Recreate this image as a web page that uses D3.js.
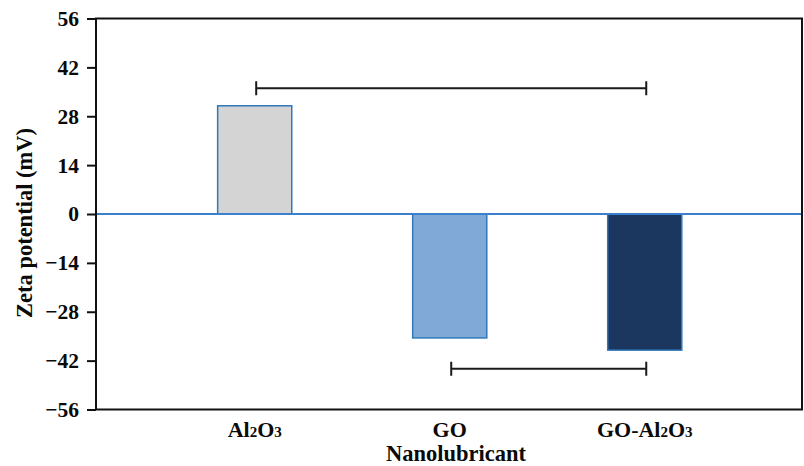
<!DOCTYPE html>
<html>
<head>
<meta charset="utf-8">
<script src="https://cdn.jsdelivr.net/npm/d3@7"></script>
<style>
  html, body { margin: 0; padding: 0; background: #fff; }
  svg { display: block; }
  text { font-family: "Liberation Serif", "Times New Roman", serif; font-weight: bold; fill: #0a0a0a; }
</style>
</head>
<body>
<svg id="chart" width="804" height="466"></svg>
<script>
// Zeta potential of each nanolubricant (mV)
const categories = ["Al2O3", "GO", "GO-Al2O3"];
const zetaValues = [31, -35.5, -39];
const barFills = ["#d4d4d4", "#81a9d8", "#1b365f"];
const yTicks = [-56, -42, -28, -14, 0, 14, 28, 42, 56];
// Comparison brackets drawn between category centres
const bracketFrom = ["Al2O3", "GO"];
const bracketTo = ["GO-Al2O3", "GO-Al2O3"];
const bracketLevel = [36, -44.3];

const svg = d3.select("#chart");
const plot = { left: 96, right: 802, top: 18.5, bottom: 409.5 };

const y = d3.scaleLinear().domain([-56, 56]).range([plot.bottom, plot.top]);
const x = d3.scaleBand().domain(categories)
  .range([plot.left, plot.right]).paddingInner(0.62).paddingOuter(0.62).align(0.503);

// Bars
svg.append("g").selectAll("rect")
  .data(categories.map((c, i) => ({ c, v: zetaValues[i], fill: barFills[i] })))
  .join("rect")
  .attr("x", d => x(d.c))
  .attr("width", x.bandwidth())
  .attr("y", d => y(Math.max(0, d.v)))
  .attr("height", d => Math.abs(y(d.v) - y(0)))
  .attr("fill", d => d.fill)
  .attr("stroke", "#2f79b9")
  .attr("stroke-width", 1.5);

// Zero line
svg.append("line")
  .attr("x1", plot.left).attr("x2", plot.right)
  .attr("y1", y(0)).attr("y2", y(0))
  .attr("stroke", "#3a80cc").attr("stroke-width", 2);

// Frame
svg.append("rect")
  .attr("x", plot.left).attr("y", plot.top)
  .attr("width", plot.right - plot.left).attr("height", plot.bottom - plot.top)
  .attr("fill", "none").attr("stroke", "#111").attr("stroke-width", 2);

// Y axis
const yAxis = d3.axisLeft(y).tickValues(yTicks).tickSize(9).tickPadding(8).tickFormat(d3.format("d"));
const gy = svg.append("g").attr("transform", `translate(${plot.left},0)`).call(yAxis);
gy.select(".domain").remove();
gy.selectAll(".tick line").attr("stroke", "#111").attr("stroke-width", 2);
gy.selectAll(".tick text")
  .style("font-family", "'Liberation Serif', serif")
  .style("font-weight", "bold")
  .style("font-size", "21.5px")
  .attr("fill", "#0a0a0a");

// X category labels with subscripted digits
const xLabels = svg.append("g").selectAll("text")
  .data(categories)
  .join("text")
  .attr("x", d => x(d) + x.bandwidth() / 2)
  .attr("y", 437)
  .attr("text-anchor", "middle")
  .style("font-size", "22px");
xLabels.each(function(d) {
  const t = d3.select(this);
  d.split(/(\d)/).filter(s => s.length).forEach(part => {
    if (/^\d$/.test(part)) {
      t.append("tspan").text(part).style("font-size", "15px");
    } else {
      t.append("tspan").text(part);
    }
  });
});

// Axis titles
svg.append("text")
  .attr("x", (plot.left + plot.right) / 2 + 7)
  .attr("y", 461)
  .attr("text-anchor", "middle")
  .style("font-size", "22.5px")
  .text("Nanolubricant");

svg.append("text")
  .attr("transform", `translate(32,${(plot.top + plot.bottom) / 2 + 9}) rotate(-90)`)
  .attr("text-anchor", "middle")
  .style("font-size", "22.5px")
  .text("Zeta potential (mV)");

// Comparison brackets
const cx = c => x(c) + x.bandwidth() / 2 + 1.5;
const capHalf = 7;
const brackets = svg.append("g").attr("stroke", "#1a1a1a").attr("stroke-width", 2).attr("fill", "none");
bracketLevel.forEach((lv, i) => {
  const x1 = cx(bracketFrom[i]), x2 = cx(bracketTo[i]), yy = y(lv);
  brackets.append("path")
    .attr("d", `M${x1},${yy - capHalf}V${yy + capHalf}M${x1},${yy}H${x2}M${x2},${yy - capHalf}V${yy + capHalf}`);
});
</script>
</body>
</html>
